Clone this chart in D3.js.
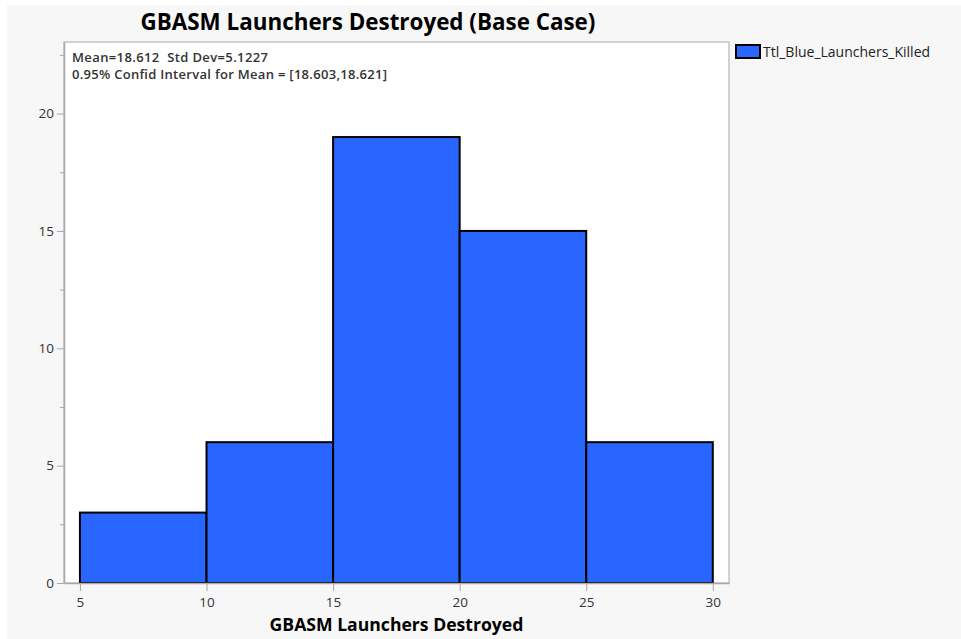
<!DOCTYPE html>
<html>
<head>
<meta charset="utf-8">
<script src="https://cdn.jsdelivr.net/npm/d3@7"></script>
<style>
  body { margin: 0; background: #fff; }
  svg { display: block; }
  text { font-family: "Open Sans", "Noto Sans", sans-serif; }
</style>
</head>
<body>
<svg id="chart" width="961" height="639"></svg>
<script>
// histogram bins (lower edge, upper edge) and counts
const binStarts = [5, 10, 15, 20, 25];
const binEnds = [10, 15, 20, 25, 30];
const counts = [3, 6, 19, 15, 6];
const xTicks = [5, 10, 15, 20, 25, 30];
const yTicks = [0, 5, 10, 15, 20];
const yMinorTicks = [2.5, 7.5, 12.5, 17.5, 22.5];
const seriesName = 'Ttl_Blue_Launchers_Killed';
const statLines = ['Mean=18.612  Std Dev=5.1227', '0.95% Confid Interval for Mean = [18.603,18.621]'];

const svg = d3.select('#chart');

// grey panel behind everything (thin white strip top and left)
svg.append('rect').attr('x', 7).attr('y', 5).attr('width', 954).attr('height', 634).attr('fill', '#f7f7f7');

const plotLeft = 64, plotRight = 729, plotTop = 42, plotBottom = 583;

const x = d3.scaleLinear().domain([4.37, 30.64]).range([plotLeft, plotRight]);
const y = d3.scaleLinear().domain([0, 23.05]).range([plotBottom, plotTop]);

// plot frame
svg.append('rect')
  .attr('x', plotLeft).attr('y', plotTop)
  .attr('width', plotRight - plotLeft).attr('height', plotBottom - plotTop)
  .attr('fill', '#fff').attr('stroke', '#c4c4c4').attr('stroke-width', 1.5);

// bars
const bins = binStarts.map((s, i) => ({ x0: s, x1: binEnds[i], n: counts[i] }));
svg.append('g').selectAll('rect').data(bins).enter().append('rect')
  .attr('x', d => x(d.x0))
  .attr('y', d => y(d.n))
  .attr('width', d => x(d.x1) - x(d.x0))
  .attr('height', d => y(0) - y(d.n))
  .attr('fill', '#2966ff')
  .attr('stroke', '#000')
  .attr('stroke-width', 2);

// y axis
const yAxis = svg.append('g').attr('transform', `translate(${plotLeft},0)`)
  .call(d3.axisLeft(y).tickValues(yTicks).tickSizeInner(7).tickSizeOuter(0).tickPadding(3).tickFormat(d3.format('d')));
yAxis.select('.domain').attr('stroke', '#a8a8a8').attr('stroke-width', 1.5);
yAxis.selectAll('.tick line').attr('stroke', '#a8a8a8');
yAxis.selectAll('.tick text').attr('fill', '#333').attr('font-size', 13.5)
  .attr('font-family', '"Open Sans", sans-serif');

svg.append('g').attr('transform', `translate(${plotLeft},0)`)
  .call(d3.axisLeft(y).tickValues(yMinorTicks).tickSize(4).tickFormat(''))
  .call(g => g.select('.domain').remove())
  .selectAll('.tick line').attr('stroke', '#a8a8a8');

// x axis
const xAxis = svg.append('g').attr('transform', `translate(0,${plotBottom})`)
  .call(d3.axisBottom(x).tickValues(xTicks).tickSizeInner(8).tickSizeOuter(0).tickPadding(6).tickFormat(d3.format('d')));
xAxis.select('.domain').attr('stroke', '#a8a8a8').attr('stroke-width', 1.5);
xAxis.selectAll('.tick line').attr('stroke', '#a8a8a8');
xAxis.selectAll('.tick text').attr('fill', '#333').attr('font-size', 13.5)
  .attr('font-family', '"Open Sans", sans-serif');

// stats text in the corner of the plot
svg.append('g').selectAll('text').data(statLines).enter().append('text')
  .attr('x', 72)
  .attr('y', (d, i) => 62 + i * 17)
  .attr('font-size', 13)
  .attr('font-weight', 600)
  .attr('fill', '#333')
  .style('white-space', 'pre')
  .attr('textLength', (d, i) => i === 0 ? 196 : 315)
  .attr('lengthAdjust', 'spacing')
  .text(d => d);

// title
svg.append('text')
  .attr('x', 368).attr('y', 30)
  .attr('text-anchor', 'middle')
  .attr('font-size', 22.4).attr('font-weight', 'bold')
  .attr('fill', '#000')
  .text('GBASM Launchers Destroyed (Base Case)');

// x axis title
svg.append('text')
  .attr('x', (plotLeft + plotRight) / 2).attr('y', 631)
  .attr('text-anchor', 'middle')
  .attr('font-size', 17.6).attr('font-weight', 'bold')
  .attr('fill', '#000')
  .text('GBASM Launchers Destroyed');

// legend
const legend = svg.append('g').attr('transform', 'translate(736,45)');
legend.append('rect').attr('width', 24).attr('height', 13)
  .attr('fill', '#2966ff').attr('stroke', '#000').attr('stroke-width', 2);
legend.append('text').attr('x', 27).attr('y', 12)
  .attr('font-size', 14).attr('fill', '#222').text(seriesName);
</script>
</body>
</html>
